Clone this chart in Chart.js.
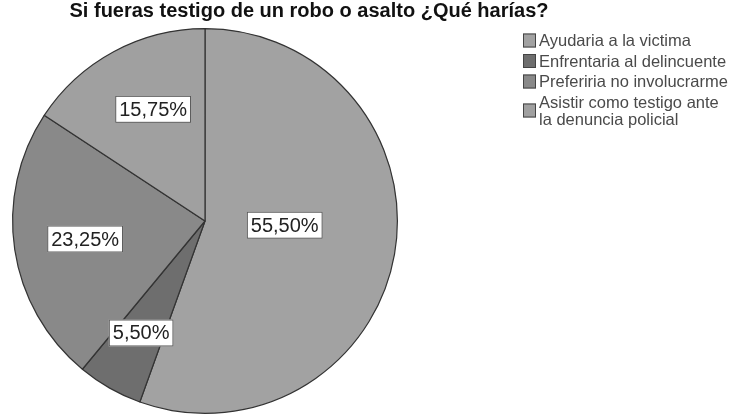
<!DOCTYPE html>
<html>
<head>
<meta charset="utf-8">
<script src="https://cdn.jsdelivr.net/npm/chart.js@4"></script>
<style>
  body { margin: 0; background: #fff; }
  canvas { display: block; }
</style>
</head>
<body>
<canvas id="mychart" width="736" height="415"></canvas>
<script>
const titleText = 'Si fueras testigo de un robo o asalto ¿Qué harías?';
const categories = [
    'Ayudaria a la victima',
    'Enfrentaria al delincuente',
    'Preferiria no involucrarme',
    ['Asistir como testigo ante', 'la denuncia policial']
];
const percentages = [55.50, 5.50, 23.25, 15.75];
const sliceColors = ['#a2a2a2', '#6e6e6e', '#898989', '#a0a0a0'];

function formatPct(v) {
    return v.toFixed(2).replace('.', ',') + '%';
}

// draws the white boxed percentage on every slice
const sliceLabels = {
    id: 'sliceLabels',
    afterDatasetsDraw(chart, args, opts) {
        const ctx = chart.ctx;
        const meta = chart.getDatasetMeta(0);
        ctx.save();
        ctx.font = '20px "Liberation Sans", Arial, sans-serif';
        ctx.textAlign = 'center';
        ctx.textBaseline = 'middle';
        meta.data.forEach((arc, i) => {
            const p = arc.getProps(['x', 'y', 'startAngle', 'endAngle', 'outerRadius'], true);
            const mid = (p.startAngle + p.endAngle) / 2 + opts.shift[i];
            const r = p.outerRadius * opts.radius[i];
            const x = p.x + Math.cos(mid) * r;
            const y = p.y + Math.sin(mid) * r;
            const text = formatPct(chart.data.datasets[0].data[i]);
            const w = ctx.measureText(text).width + 8;
            const h = 27;
            ctx.fillStyle = '#fff';
            ctx.fillRect(x - w / 2, y - h / 2, w, h);
            ctx.strokeStyle = '#555';
            ctx.lineWidth = 1;
            ctx.strokeRect(x - w / 2 + 0.5, y - h / 2 + 0.5, w - 1, h - 1);
            ctx.fillStyle = '#222';
            ctx.fillText(text, x, y + 1);
        });
        ctx.restore();
    }
};

// title and legend sit outside the pie area
const sideParts = {
    id: 'sideParts',
    afterDraw(chart) {
        const ctx = chart.ctx;
        ctx.save();
        ctx.fillStyle = '#111';
        ctx.font = 'bold 20px "Liberation Sans", Arial, sans-serif';
        ctx.textAlign = 'center';
        ctx.textBaseline = 'middle';
        ctx.fillText(titleText, 309, 11);

        ctx.font = '16.5px "Liberation Sans", Arial, sans-serif';
        ctx.textAlign = 'left';
        let y = 40.5;
        chart.data.labels.forEach((label, i) => {
            const lines = Array.isArray(label) ? label : [label];
            const mid = y + (lines.length - 1) * 17 / 2;
            ctx.fillStyle = chart.data.datasets[0].backgroundColor[i];
            ctx.fillRect(523, mid - 7, 13, 14);
            ctx.strokeStyle = '#444';
            ctx.lineWidth = 1;
            ctx.strokeRect(523.5, mid - 6.5, 12, 13);
            ctx.fillStyle = '#4a4a4a';
            lines.forEach((ln, j) => ctx.fillText(ln, 539, y + j * 17 + 1));
            y += lines.length * 17 + 3.5;
        });
        ctx.restore();
    }
};

new Chart(document.querySelector('#mychart'), {
    type: 'pie',
    data: {
        labels: categories,
        datasets: [{
            data: percentages,
            backgroundColor: sliceColors,
            borderColor: '#333',
            borderWidth: 1.2
        }]
    },
    options: {
        responsive: false,
        animation: false,
        layout: { padding: { left: 11, right: 337, top: 28, bottom: 1 } },
        plugins: {
            legend: { display: false },
            tooltip: { enabled: false },
            sliceLabels: {
                radius: [0.415, 0.67, 0.63, 0.64],
                shift: [-0.12, 0, 0, 0.06]
            }
        }
    },
    plugins: [sliceLabels, sideParts]
});
</script>
</body>
</html>
